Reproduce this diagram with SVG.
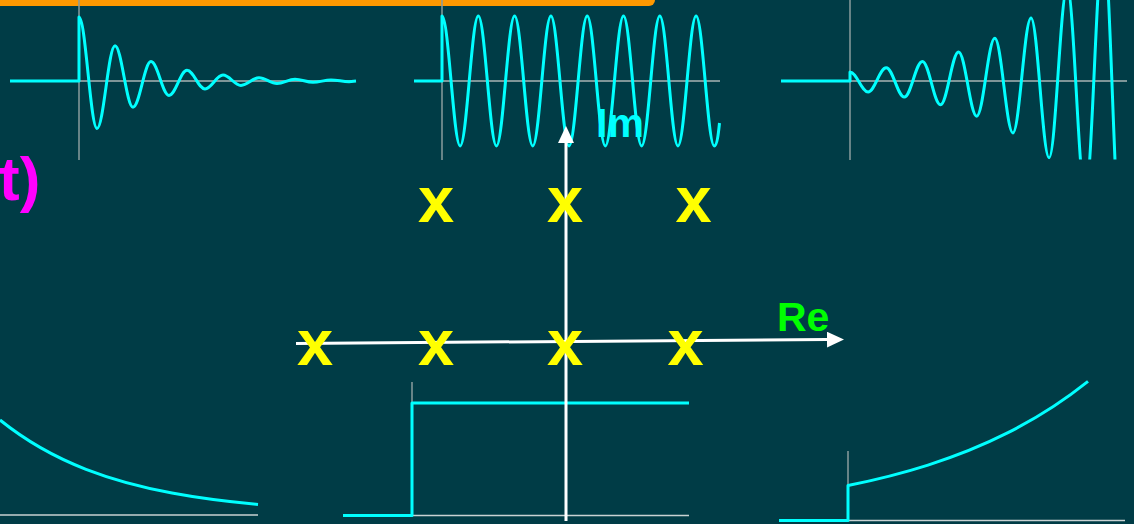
<svg xmlns="http://www.w3.org/2000/svg" width="1134" height="524" viewBox="0 0 1134 524">
<style>
.wave{fill:none;stroke:#00FFFF;stroke-width:3;stroke-linejoin:round}
.vax{stroke:#8A9C9E;stroke-width:1.5}
.hax{stroke:#A9B4B5;stroke-width:1.5}
.bax{stroke:#C9D2D3;stroke-width:1.5}
.axis{stroke:#FFFFFF;stroke-width:3;fill:none}
.pole{font-family:"Liberation Sans",Arial,sans-serif;font-weight:bold;font-size:65px;fill:#FFFF00;text-anchor:middle}
.lbl{font-family:"Liberation Sans",Arial,sans-serif;font-weight:bold;font-size:41px}
</style>
<defs>
<marker id="arrow" markerUnits="userSpaceOnUse" markerWidth="17" markerHeight="16" refX="0" refY="8" orient="auto">
<path d="M0,0 L17,8 L0,16 Z" fill="#FFFFFF"/>
</marker>
<clipPath id="clipGrow"><rect x="770" y="0" width="364" height="159.5"/></clipPath>
</defs>
<rect x="0" y="0" width="1134" height="524" fill="#003C46"/>
<g id="bar"><rect x="-10" y="-20" width="665" height="26" rx="6" fill="#FF9900"/></g>

<g id="wave-decay">
<line class="vax" x1="79" y1="0" x2="79" y2="160"/>
<line class="hax" x1="79" y1="81" x2="356" y2="81"/>
<path class="wave" d="M10,81 H79 V17 C85.55,17 90.45,128.5 97,128.5 S108.45,45.7 115,45.7 S126.45,107.2 133,107.2 S144.45,61.6 151,61.6 S162.45,95.4 169,95.4 S180.45,70.3 187,70.3 S198.45,88.9 205,88.9 S216.45,75.1 223,75.1 S234.45,85.4 241,85.4 S252.45,77.7 259,77.7 S270.45,83.4 277,83.4 S288.45,79.2 295,79.2 S306.45,82.3 313,82.3 S324.45,80 331,80 S342.45,81.7 349,81.7 L356,81"/>
</g>

<g id="wave-sustained">
<line class="vax" x1="442" y1="0" x2="442" y2="160"/>
<line class="hax" x1="442" y1="81" x2="720" y2="81"/>
<path class="wave" d="M414,81 H442 V16 C448.61,16 453.54,146 460.15,146 S471.69,16 478.3,16 S489.84,146 496.45,146 S507.99,16 514.6,16 S526.14,146 532.75,146 S544.29,16 550.9,16 S562.44,146 569.05,146 S580.59,16 587.2,16 S598.74,146 605.35,146 S616.89,16 623.5,16 S635.04,146 641.65,146 S653.19,16 659.8,16 S671.34,146 677.95,146 S689.49,16 696.1,16 S707.64,146 714.25,146 C717,146 718.5,133 719.5,123"/>
</g>

<g id="wave-growing">
<line class="vax" x1="850" y1="0" x2="850" y2="160"/>
<line class="hax" x1="850" y1="81" x2="1127" y2="81"/>
<path class="wave" clip-path="url(#clipGrow)" d="M781,81 H850 V72 C856.59,72 861.51,91.9 868.1,91.9 S879.61,67.7 886.2,67.7 S897.71,97.1 904.3,97.1 S915.81,61.4 922.4,61.4 S933.91,104.8 940.5,104.8 S952.01,52 958.6,52 S970.11,116.2 976.7,116.2 S988.21,38.3 994.8,38.3 S1006.31,132.9 1012.9,132.9 S1024.41,17.9 1031,17.9 S1042.51,157.7 1049.1,157.7 S1060.61,-12.2 1067.2,-12.2 S1078.71,194.2 1085.3,194.2 S1096.81,-56.5 1103.4,-56.5 S1114.91,248 1121.5,248"/>
</g>

<g id="label-t"><text x="-1" y="200" font-family="Liberation Sans, Arial, sans-serif" font-weight="bold" font-size="62" fill="#FF00FF">t)</text></g>

<g id="exp-decay">
<line class="bax" x1="0" y1="515" x2="258" y2="515"/>
<path class="wave" d="M0,420 C28.67,443.15 57.33,458.16 86,469.3 C114.67,480.44 143.33,487.64 172,493 C200.67,498.36 229.33,501.82 258,504.4"/>
</g>

<g id="step">
<line class="vax" x1="412" y1="382" x2="412" y2="515"/>
<line class="bax" x1="412" y1="515.5" x2="689" y2="515.5"/>
<path class="wave" d="M343,515.5 H412 V403 H689"/>
</g>

<g id="exp-grow">
<line class="vax" x1="848" y1="451" x2="848" y2="520"/>
<line class="bax" x1="848" y1="520.5" x2="1125" y2="520.5"/>
<path class="wave" d="M779,520.5 H848 V485.5 C874.67,480.13 901.33,473.6 928,465.1 C954.67,456.6 981.33,446.17 1008,432.7 C1034.67,419.23 1061.33,402.73 1088,381.4"/>
</g>

<g id="connectors">
<line class="axis" x1="566" y1="521" x2="566" y2="143" marker-end="url(#arrow)"/>
<line class="axis" x1="296" y1="343.4" x2="827" y2="339.6" marker-end="url(#arrow)"/>
</g>

<g id="label-im"><text class="lbl" x="596" y="137" fill="#00FFFF">Im</text></g>
<g id="label-re"><text class="lbl" x="777" y="331" fill="#00FF00">Re</text></g>

<g id="poles">
<text class="pole" x="436" y="222">x</text>
<text class="pole" x="565" y="222">x</text>
<text class="pole" x="693.5" y="222">x</text>
<text class="pole" x="315" y="365">x</text>
<text class="pole" x="436" y="365">x</text>
<text class="pole" x="565" y="365">x</text>
<text class="pole" x="685.5" y="365">x</text>
</g>
</svg>
